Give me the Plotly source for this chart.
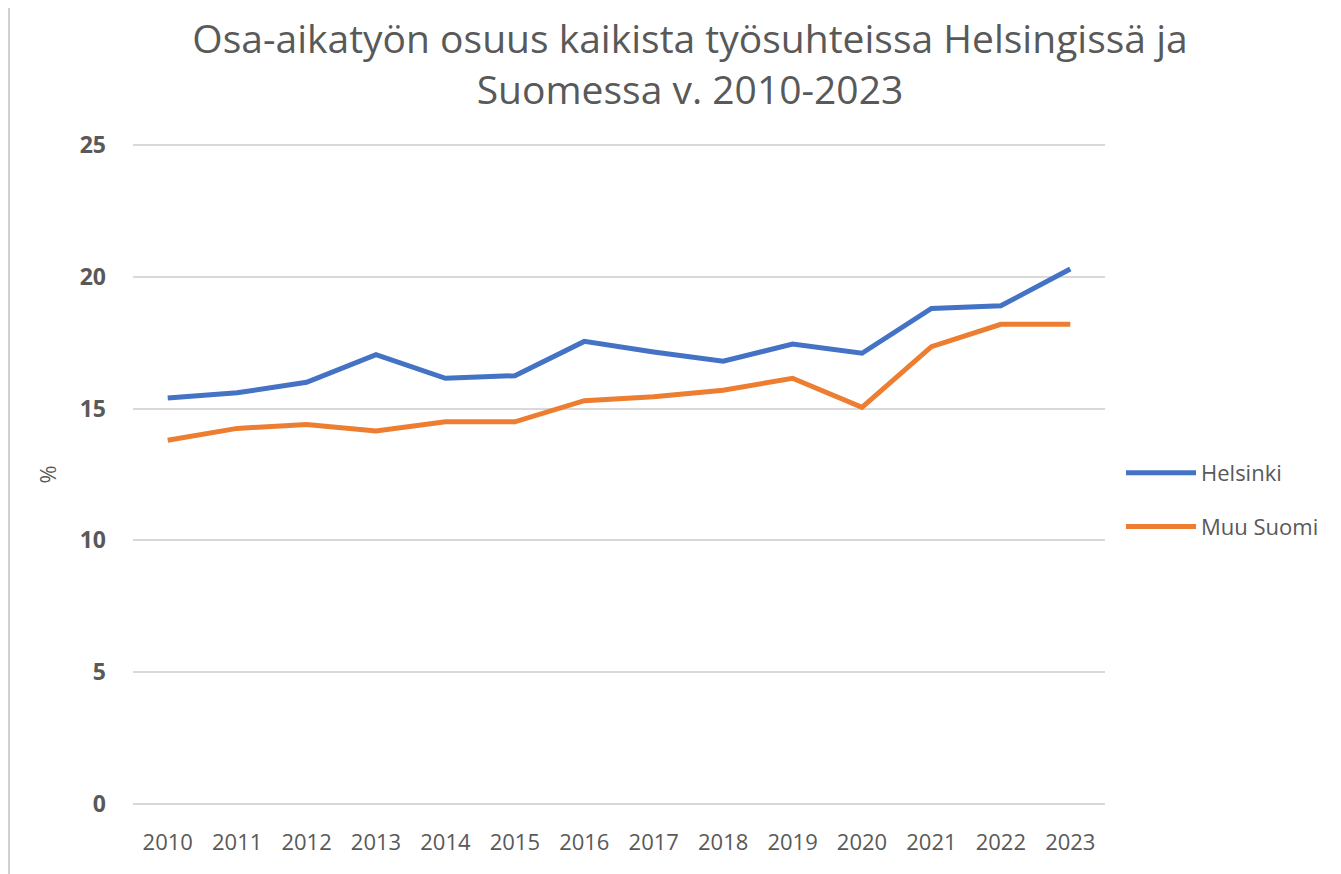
import plotly.graph_objects as go

# Data (percent)
years = [str(y) for y in range(2010, 2024)]
helsinki = [15.4, 15.6, 16.0, 17.05, 16.15, 16.25, 17.55, 17.15, 16.8, 17.45, 17.1, 18.8, 18.9, 20.3]
muu_suomi = [13.8, 14.25, 14.4, 14.15, 14.5, 14.5, 15.3, 15.45, 15.7, 16.15, 15.05, 17.35, 18.2, 18.2]
y_ticks = [0, 5, 10, 15, 20, 25]

BLUE = '#4472C4'
ORANGE = '#ED7D31'
GRAY_TEXT = '#595959'
FONT = 'Open Sans, Noto Sans, sans-serif'

# page body has an 8px margin, so the figure is 8px smaller than the window
W, H = 1333, 866
ML, MR, MT, MB = 125, 236, 136, 69
PLOT_W = W - ML - MR
PLOT_H = H - MT - MB

fig = go.Figure()

fig.add_trace(go.Scatter(
    x=years, y=helsinki, mode='lines', name='Helsinki', legendgroup='h',
    line=dict(color=BLUE, width=5)
))
fig.add_trace(go.Scatter(
    x=years, y=muu_suomi, mode='lines', name='Muu Suomi', legendgroup='m',
    line=dict(color=ORANGE, width=5)
))

fig.update_layout(
    width=W, height=H,
    paper_bgcolor='white', plot_bgcolor='white',
    margin=dict(l=ML, r=MR, t=MT, b=MB, autoexpand=False),
    font=dict(family=FONT, color=GRAY_TEXT, size=22),
    title=dict(
        text='Osa-aikatyön osuus kaikista työsuhteissa Helsingissä ja<br>Suomessa v. 2010-2023',
        x=682 / W, xanchor='center', xref='container',
        y=1 - 45 / H, yanchor='top', yref='container',
        font=dict(family=FONT, size=39, color=GRAY_TEXT)
    ),
    xaxis=dict(
        type='category', range=[-0.5, 13.5],
        showgrid=False, showline=False, zeroline=False, ticks='',
        ticklabelstandoff=22,
        tickfont=dict(size=22, color=GRAY_TEXT)
    ),
    yaxis=dict(
        range=[-0.04, 25.04], tickvals=y_ticks,
        showgrid=True, gridcolor='#D9D9D9', gridwidth=2,
        zeroline=False, showline=False, ticks='',
        ticklabelstandoff=26,
        tickfont=dict(size=23, color=GRAY_TEXT, weight='bold'),
        title=dict(text='%', standoff=16, font=dict(size=22, color=GRAY_TEXT))
    ),
    legend=dict(
        x=(1113 - ML) / PLOT_W, xanchor='left',
        y=(H - MB - 492) / PLOT_H, yanchor='middle',
        font=dict(size=22, color=GRAY_TEXT),
        itemwidth=70,
        tracegroupgap=22, bgcolor='rgba(0,0,0,0)'
    ),
    showlegend=True
)

# thin frame edge on the left side of the picture
fig.add_shape(
    type='line', xref='paper', yref='paper',
    x0=(1 - ML) / PLOT_W, x1=(1 - ML) / PLOT_W, y0=-0.2, y1=1.3,
    line=dict(color='#D0D0D0', width=2)
)

fig.write_html("out.html")
